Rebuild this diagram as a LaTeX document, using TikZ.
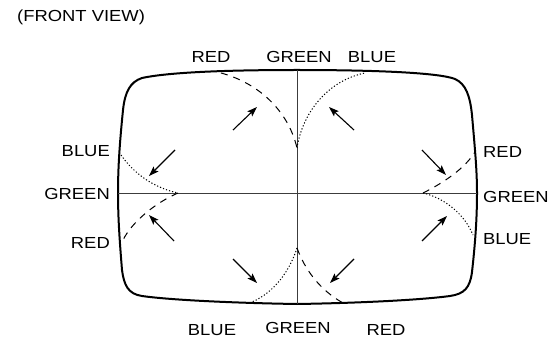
\documentclass[tikz,border=0pt]{standalone}
\usepackage{fontspec}
\setmainfont[FakeStretch=1.15]{Liberation Sans}
\usepackage{tikz}
\usetikzlibrary{arrows.meta}
\definecolor{white}{RGB}{255,255,255}
\definecolor{black}{RGB}{0,0,0}
\definecolor{axis_gray}{RGB}{60,60,60}
\tikzset{
	label_text/.style={inner sep=0pt,font=\fontsize{16}{19}\selectfont},
	screen/.style={black,line width=2pt,line join=round},
	axis/.style={axis_gray,line width=0.9pt},
	red_curve/.style={black,line width=1pt,dash pattern=on 7pt off 6pt},
	blue_curve/.style={black,line width=1pt,dash pattern=on 1.2pt off 2pt},
	shift_arrow/.style={black,line width=1.1pt,-{Stealth[length=10pt,width=7pt,inset=2pt]}}
}

\begin{document}
\begin{tikzpicture}[x=1pt,y=-1pt]
	\useasboundingbox[fill=white] (0,0) rectangle (548,339);

	\node[label_text,anchor=west] (title) at (17,17) {(FRONT VIEW)};

	\node[label_text] (top_red) at (211,57) {RED};
	\node[label_text] (top_green) at (299,57) {GREEN};
	\node[label_text] (top_blue) at (372,57) {BLUE};
	\node[label_text,anchor=east] (left_blue) at (110,151) {BLUE};
	\node[label_text,anchor=east] (left_green) at (110,194) {GREEN};
	\node[label_text,anchor=east] (left_red) at (110,243) {RED};
	\node[label_text,anchor=west] (right_red) at (483,152) {RED};
	\node[label_text,anchor=west] (right_green) at (483,197) {GREEN};
	\node[label_text,anchor=west] (right_blue) at (483,239) {BLUE};
	\node[label_text] (bottom_blue) at (212,330) {BLUE};
	\node[label_text] (bottom_green) at (298,328) {GREEN};
	\node[label_text] (bottom_red) at (386,330) {RED};

	\draw[screen] (297,70) .. controls (380,70) and (440,73) .. (455,79)
		.. controls (466,84) and (470,96) .. (472,115)
		.. controls (475,150) and (477,170) .. (477,193)
		.. controls (477,220) and (475,245) .. (472,272)
		.. controls (470,288) and (464,294) .. (450,296)
		.. controls (420,300) and (360,303) .. (297,304)
		.. controls (234,303) and (170,300) .. (142,296)
		.. controls (128,294) and (124,285) .. (122,270)
		.. controls (120,245) and (118,220) .. (118,193)
		.. controls (118,165) and (120,140) .. (123,110)
		.. controls (125,92) and (130,82) .. (142,78)
		.. controls (170,72) and (230,70) .. (297,70) -- cycle;

	\draw[axis] (297,70) -- (297,304);
	\draw[axis] (118,193) -- (477,193);

	\draw[red_curve] (221,73) .. controls (258,83) and (288,110) .. (297,148);
	\draw[blue_curve] (297,148) .. controls (303,110) and (330,80) .. (365,73);
	\draw[blue_curve] (121,155) .. controls (135,175) and (155,188) .. (178,193);
	\draw[red_curve] (178,193) .. controls (155,203) and (132,222) .. (123,240);
	\draw[red_curve] (423,193) .. controls (445,182) and (465,168) .. (475,152);
	\draw[blue_curve] (423,193) .. controls (445,198) and (465,215) .. (473,235);
	\draw[blue_curve] (297,248) .. controls (290,270) and (275,292) .. (252,302);
	\draw[red_curve] (297,248) .. controls (305,270) and (320,290) .. (343,303);

	\foreach \x/\y/\u/\v in {233/130/257/107,175/150/149/176,354/130/329/107,422/150/446/175,174/241/149/215,233/259/257/283,354/259/330/283,422/241/447/216}
		\draw[shift_arrow] (\x,\y) -- (\u,\v);
\end{tikzpicture}
\end{document}
